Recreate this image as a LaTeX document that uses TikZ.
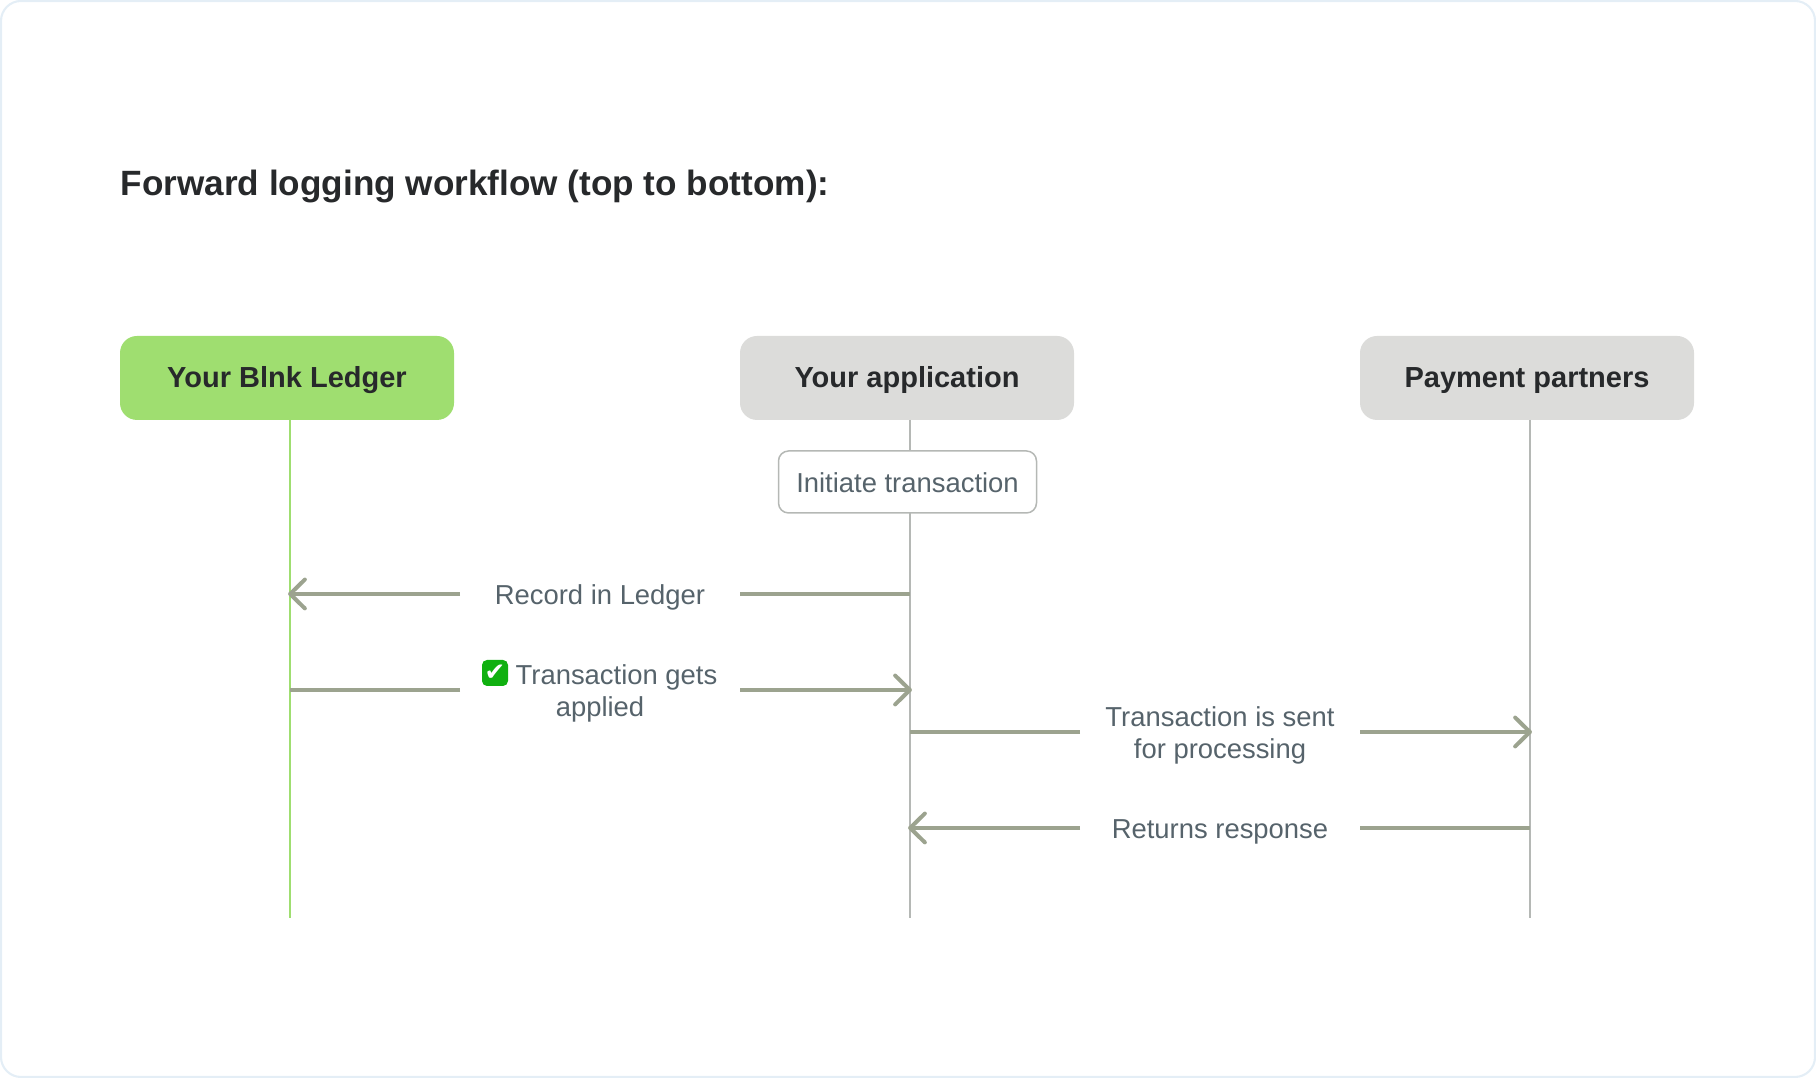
\documentclass[tikz,border=0pt]{standalone}
\usepackage{fontspec}
\usepackage{xcolor}
\usetikzlibrary{arrows.meta}
\setmainfont{Liberation Sans}
\newfontfamily\checkfont{DejaVu Sans}
\definecolor{frameblue}{HTML}{E4EEF6}
\definecolor{ledgergreen}{HTML}{9FDE70}
\definecolor{boxgray}{HTML}{DCDCDA}
\definecolor{lifegray}{HTML}{B5B8B5}
\definecolor{flowgray}{HTML}{9CA38F}
\definecolor{titleink}{HTML}{27292B}
\definecolor{labelink}{HTML}{56636B}
\definecolor{checkgreen}{HTML}{10B010}
\tikzset{
  party/.style={rounded corners=0.17cm, minimum width=3.34cm, minimum height=0.84cm, text=titleink, outer sep=0pt,
    text height=6.9pt, text depth=1.6pt, font=\fontsize{8.25}{10}\selectfont\bfseries},
  msglabel/.style={minimum width=2.8cm, inner sep=0pt, outer sep=0pt, align=center, text=labelink,
    text height=7.5pt, text depth=1.6pt, font=\fontsize{7.8}{9.1}\selectfont},
  twolines/.style={text height=16.7pt},
  lifeline/.style={line width=0.57pt},
  flow/.style={flowgray, line width=1.14pt},
  flowto/.style={flow, ->, shorten >=-0.55pt}
}
\begin{document}
\begin{tikzpicture}[>={Straight Barb[length=4.2pt, width=8.2pt, round]}]
      \useasboundingbox (0,0) rectangle (18.16,10.78);
      \draw[frameblue, line width=0.6pt, rounded corners=0.2cm] (0.01,0.01) rectangle (18.15,10.77);
      \node[anchor=west, inner sep=0pt, text=titleink, font=\fontsize{10}{12}\selectfont\bfseries] (title) at (1.20,8.91)
        {Forward logging workflow (top to bottom):};
      % the three parties along the top
      \node[party, fill=ledgergreen] (ledger) at (2.87,7.00) {Your Blnk Ledger};
      \node[party, fill=boxgray] (app) at (9.07,7.00) {Your application};
      \node[party, fill=boxgray] (partners) at (15.27,7.00) {Payment partners};
      \coordinate (ledgerend) at (2.90,1.60);
      \coordinate (append) at (9.10,1.60);
      \coordinate (partnersend) at (15.30,1.60);
      \draw[lifeline, ledgergreen] (ledger.south -| ledgerend) -- (ledgerend);
      \draw[lifeline, lifegray] (app.south -| append) -- (append);
      \draw[lifeline, lifegray] (partners.south -| partnersend) -- (partnersend);
      \node[msglabel, draw=lifegray, fill=white, line width=0.43pt, rounded corners=0.1cm,
        minimum width=2.58cm, minimum height=0.62cm] (initiate) at (9.075,5.96) {Initiate transaction};
      % messages: label in the gap, one line on either side
      \node[msglabel] (record) at (6.00,4.84) {Record in Ledger};
      \node[msglabel, twolines] (applied) at (6.00,3.88) {\hspace{0.33cm}Transaction gets\\applied};
      \node[msglabel, twolines] (sent) at (12.20,3.46) {Transaction is sent\\for processing};
      \node[msglabel] (returns) at (12.20,2.50) {Returns response};
      \node[fill=checkgreen, text=white, rounded corners=0.05cm, minimum size=0.26cm, inner sep=0pt,
        font=\fontsize{7}{7}\selectfont\checkfont] (check) at (4.95,4.05) {✔};
      \draw[flow] (record.east) -- (record.east -| append);
      \draw[flowto] (record.west) -- (record.west -| ledgerend);
      \draw[flow] (applied.west) -- (applied.west -| ledgerend);
      \draw[flowto] (applied.east) -- (applied.east -| append);
      \draw[flow] (sent.west) -- (sent.west -| append);
      \draw[flowto] (sent.east) -- (sent.east -| partnersend);
      \draw[flow] (returns.east) -- (returns.east -| partnersend);
      \draw[flowto] (returns.west) -- (returns.west -| append);
    \end{tikzpicture}
\end{document}
